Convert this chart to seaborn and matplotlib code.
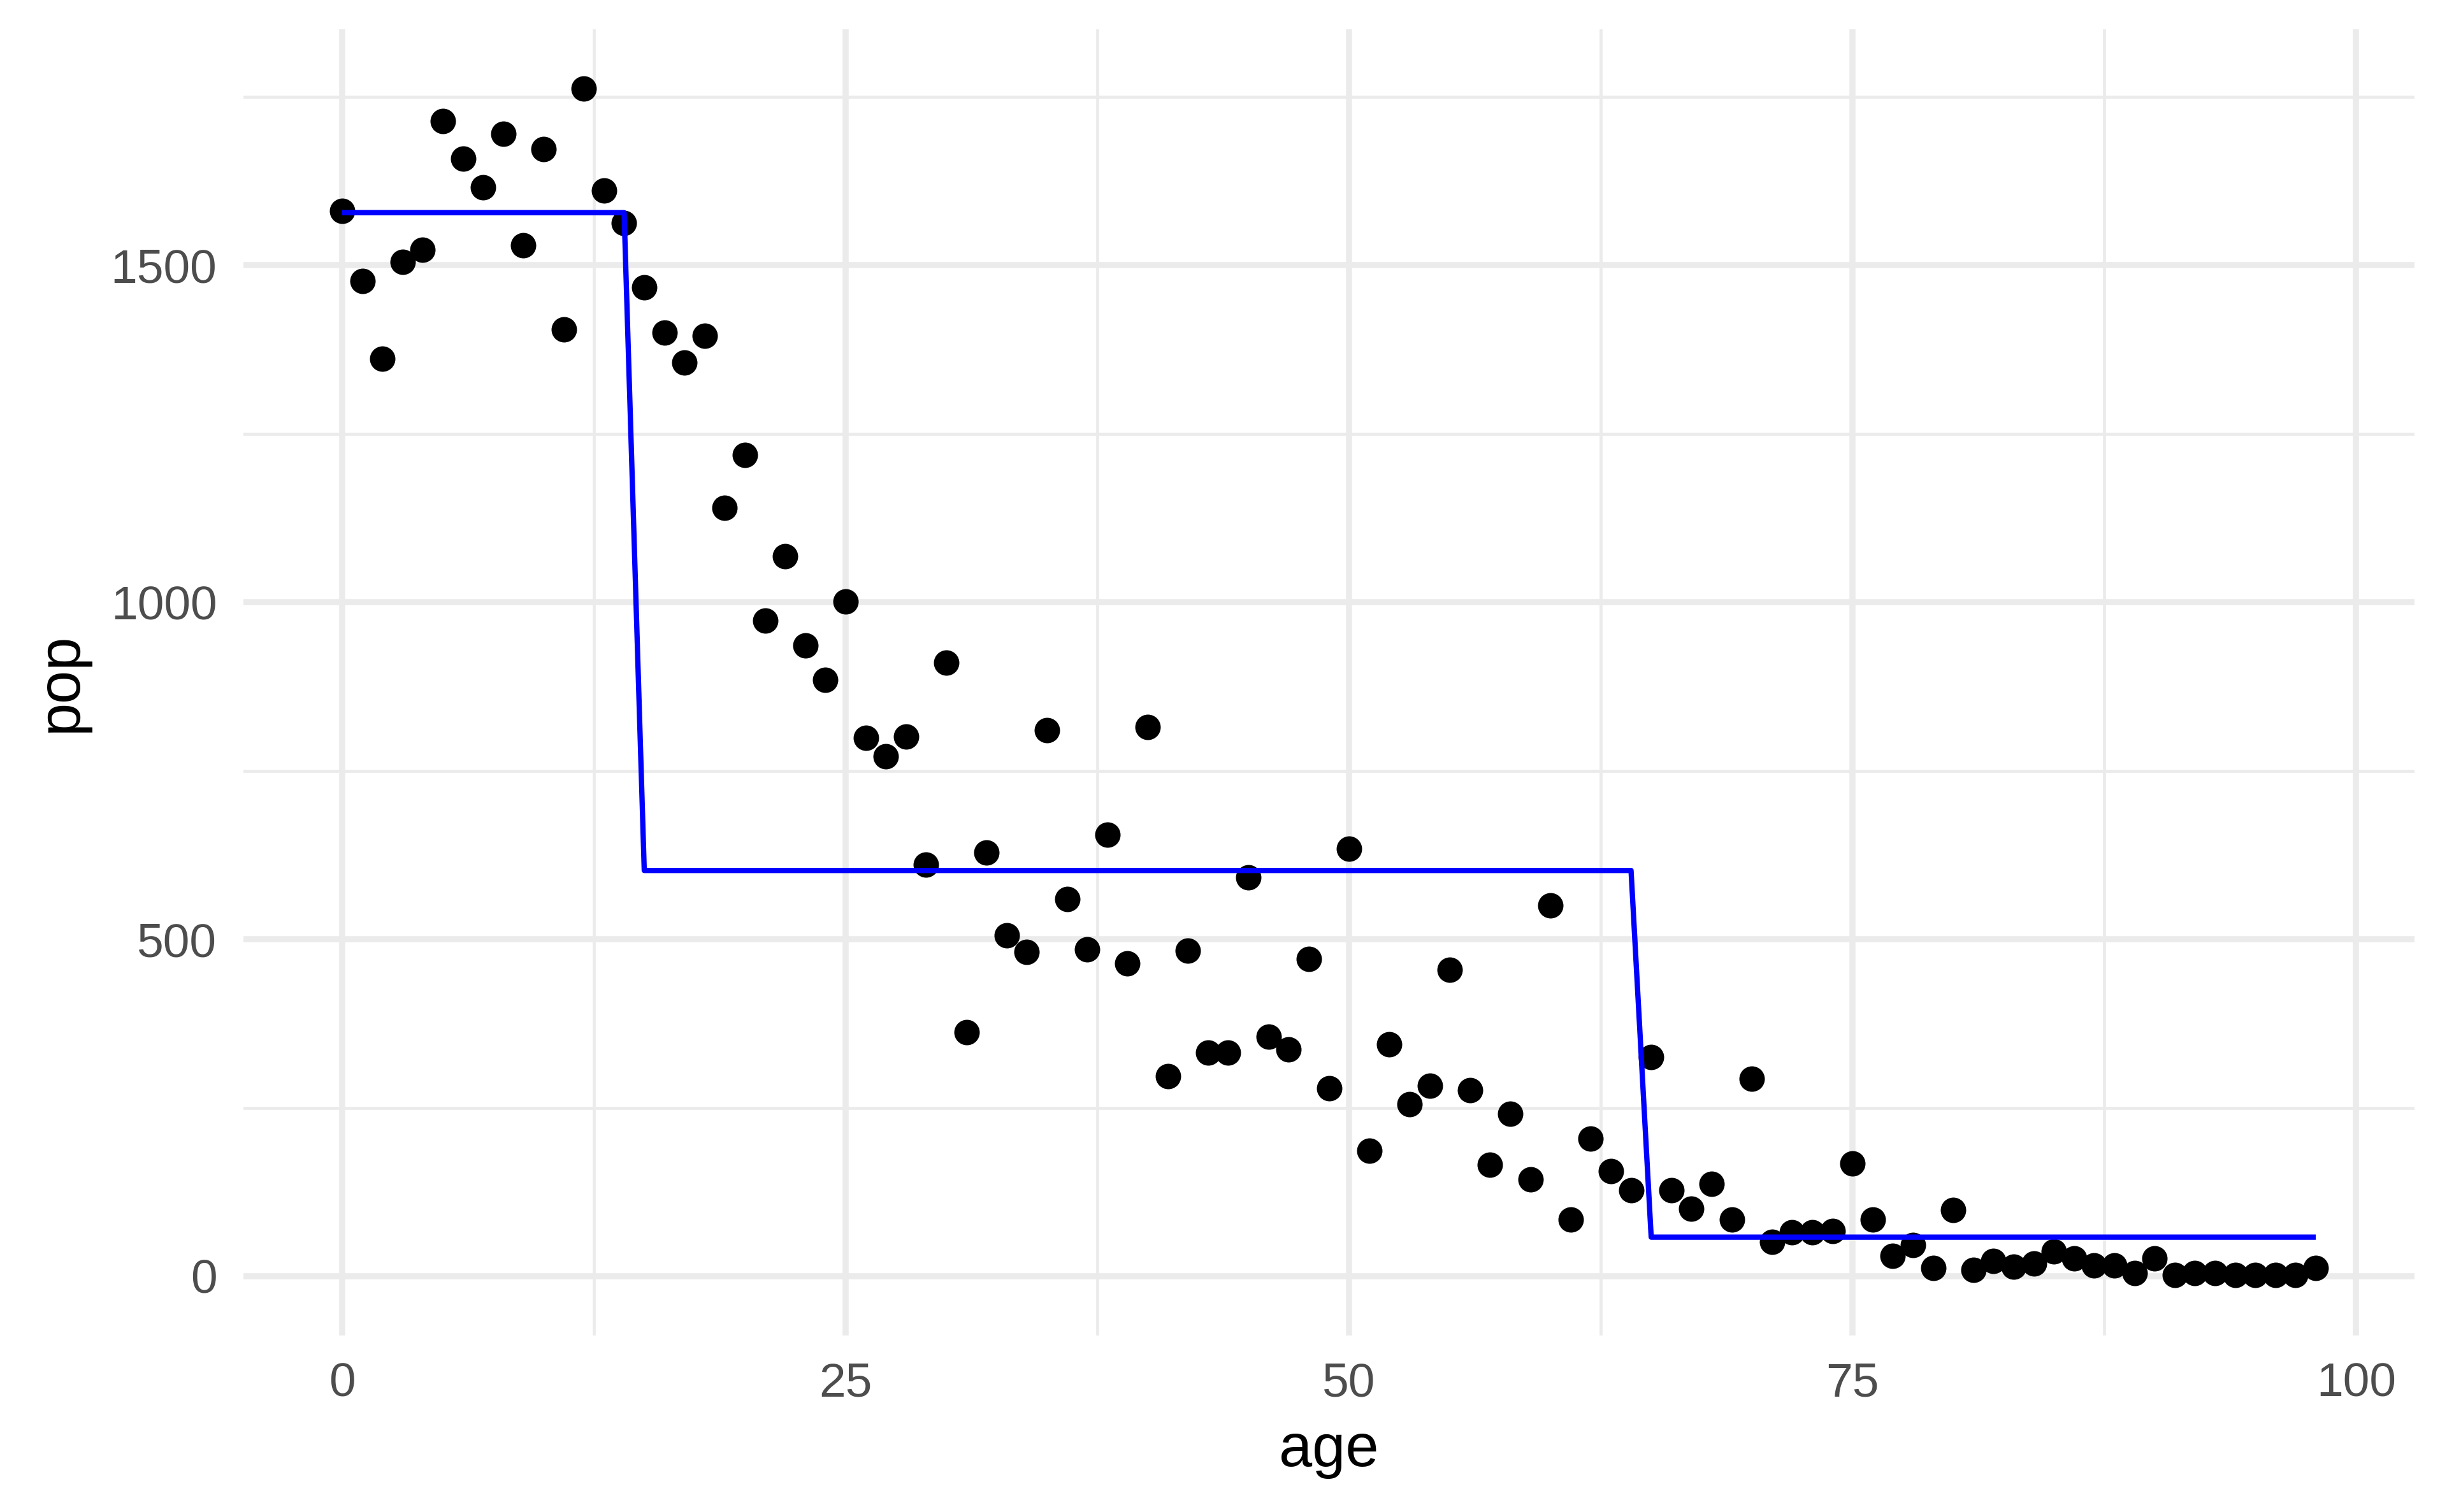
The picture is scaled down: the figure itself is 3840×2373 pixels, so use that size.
import numpy as np
import pandas as pd
import matplotlib
matplotlib.use("Agg")
import matplotlib.pyplot as plt
import seaborn as sns
from matplotlib.ticker import MultipleLocator

# population by single year of age
age = list(range(99))
pop = [1581, 1477, 1361, 1505, 1523, 1714, 1658, 1616, 1695, 1530,
       1672, 1405, 1762, 1611, 1563, 1467, 1400, 1356, 1395, 1140,
       1219, 973, 1068, 936, 885, 1001, 799, 771, 801, 611,
       910, 362, 629, 506, 481, 810, 560, 485, 655, 464,
       815, 297, 483, 332, 332, 592, 355, 337, 471, 279,
       634, 186, 344, 255, 283, 455, 276, 165, 241, 144,
       550, 84, 204, 156, 128, 325, 128, 100, 137, 84,
       293, 51, 65, 65, 67, 167, 84, 30, 46, 12,
       98, 9, 23, 14, 19, 37, 26, 16, 16, 5,
       26, 2, 5, 5, 2, 2, 2, 2, 12]

# fitted step function: level and number of ages in each leaf
step_levels = [1578, 602, 58]
step_lengths = [15, 50, 34]

df = pd.DataFrame({"age": age, "pop": pop})
df["pred"] = np.repeat(step_levels, step_lengths)

sns.set_theme(style="whitegrid")
plt.rcParams["font.family"] = ["Liberation Sans", "DejaVu Sans"]

fig, ax = plt.subplots(figsize=(12.8, 7.91), dpi=300)
fig.subplots_adjust(left=0.0995, right=0.9867, bottom=0.1167, top=0.9806)

sns.scatterplot(data=df, x="age", y="pop", color="black", s=92,
                linewidth=0, ax=ax, zorder=3)
sns.lineplot(data=df, x="age", y="pred", color="blue", linewidth=2.0,
             solid_capstyle="butt", solid_joinstyle="round",
             ax=ax, zorder=4)

ax.set_xlim(-4.9, 102.9)
ax.set_ylim(-88, 1850)
ax.xaxis.set_major_locator(MultipleLocator(25))
ax.xaxis.set_minor_locator(MultipleLocator(12.5))
ax.yaxis.set_major_locator(MultipleLocator(500))
ax.yaxis.set_minor_locator(MultipleLocator(250))

ax.grid(which="major", color="#EBEBEB", linewidth=2.3)
ax.grid(which="minor", color="#EBEBEB", linewidth=1.15)
ax.set_axisbelow(True)
for sp in ax.spines.values():
    sp.set_visible(False)
ax.set_facecolor("white")

ax.tick_params(which="both", length=0, pad=10, labelsize=18,
               labelcolor="#4D4D4D")
ax.set_xlabel("age", fontsize=22.5, color="black", labelpad=6)
ax.set_ylabel("pop", fontsize=22.5, color="black", labelpad=8)

fig.savefig("out.png", dpi=300, facecolor="white")
